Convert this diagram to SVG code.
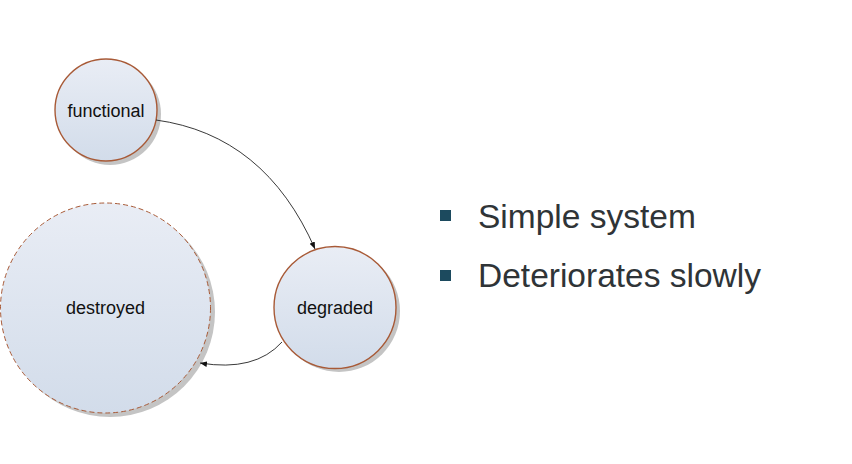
<svg xmlns="http://www.w3.org/2000/svg" width="852" height="464" viewBox="0 0 852 464">
<defs>
<linearGradient id="fill" x1="0" y1="0" x2="0" y2="1">
<stop offset="0" stop-color="#e9edf5"/>
<stop offset="1" stop-color="#d2dcea"/>
</linearGradient>
<marker id="arr" viewBox="0 0 10 10" refX="10" refY="5" markerWidth="7" markerHeight="7" orient="auto" markerUnits="userSpaceOnUse">
<path d="M0,1 L10,5 L0,9 z" fill="#111"/>
</marker>
</defs>
<style>
.shadow{fill:#c4c4c4}
.node{fill:url(#fill);stroke:#a85a37;stroke-width:1.4}
.dashed{stroke-dasharray:5 3;stroke-width:1}
.lbl{font-family:"Liberation Sans",Arial,sans-serif;font-size:18px;fill:#111;text-anchor:middle}
.edge{fill:none;stroke:#222;stroke-width:0.9}
.bullet-text{font-family:"Liberation Sans",Arial,sans-serif;font-size:33.5px;fill:#2f3437}
.bullet{fill:#1c4a5e}
</style>
<rect width="852" height="464" fill="#fff"/>
<g id="functional">
<circle class="shadow" cx="110" cy="114" r="51"/>
<circle class="node" cx="106" cy="110" r="51"/>
<text class="lbl" x="106" y="117">functional</text>
</g>
<g id="degraded">
<circle class="shadow" cx="339" cy="311" r="61"/>
<circle class="node" cx="335" cy="307.5" r="61"/>
<text class="lbl" x="335" y="314">degraded</text>
</g>
<g id="destroyed">
<circle class="shadow" cx="110" cy="312" r="105"/>
<circle class="node dashed" cx="105.5" cy="308" r="105"/>
<text class="lbl" x="105.5" y="314">destroyed</text>
</g>
<g id="connectors">
<path class="edge" d="M156,120 Q265,135 315,249" marker-end="url(#arr)"/>
<path class="edge" d="M282,342 Q255,372 200,363" marker-end="url(#arr)"/>
</g>
<g id="bullets">
<rect class="bullet" x="440" y="210" width="11" height="11"/>
<text class="bullet-text" x="478" y="228">Simple system</text>
<rect class="bullet" x="440" y="270" width="11" height="11"/>
<text class="bullet-text" x="478" y="287">Deteriorates slowly</text>
</g>
</svg>
